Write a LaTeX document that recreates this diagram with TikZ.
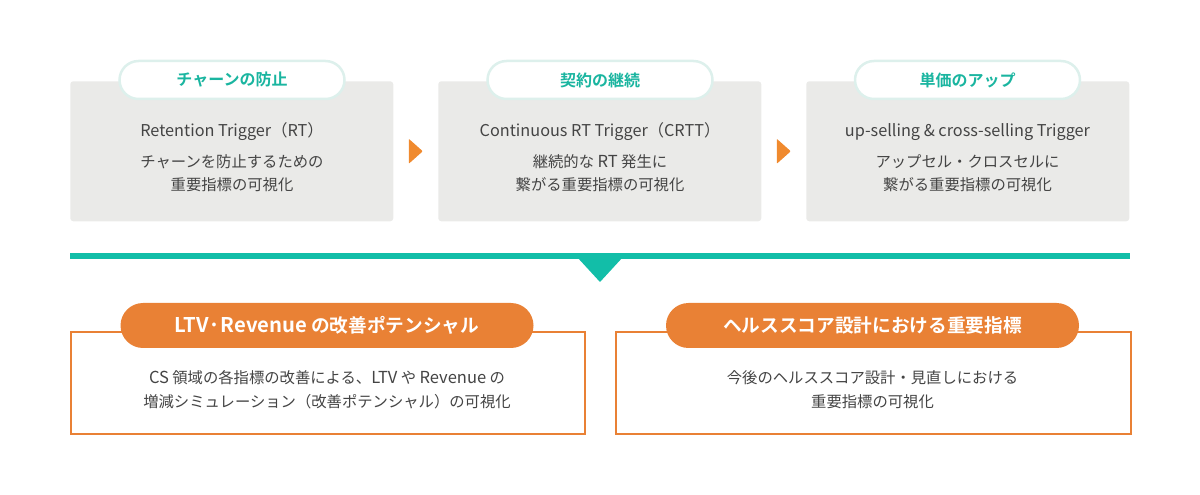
\documentclass[tikz,border=0pt]{standalone}
\usepackage{fontspec}
\setmainfont{Noto Sans CJK JP}[BoldFont={Noto Sans CJK JP Bold}]
\usetikzlibrary{calc}
\newlength\upx
\setlength\upx{0.75pt}
\newcommand\latb[1]{{\fontsize{12.4}{18}\selectfont #1}}
\newcommand\latp[1]{{\fontsize{15.2}{18}\selectfont #1}}
\definecolor{grayfill}{HTML}{EAEAE8}
\definecolor{pillborder}{HTML}{DDF0EC}
\definecolor{tealtext}{HTML}{1AB5A0}
\definecolor{tealbar}{HTML}{12BEA8}
\definecolor{arroworange}{HTML}{F08A2E}
\definecolor{boxorange}{HTML}{E98135}
\definecolor{bodytext}{HTML}{444444}
\begin{document}
\begin{tikzpicture}[x=0.75pt,y=-0.75pt,
  graybox/.style={fill=grayfill, draw=none, rounded corners=3\upx, minimum width=323\upx, minimum height=140\upx, inner sep=0pt, anchor=north west},
  toppill/.style={fill=white, draw=pillborder, line width=2.5\upx, rounded corners=19\upx, minimum width=225\upx, minimum height=38\upx, inner sep=0pt, text=tealtext, font=\bfseries\fontsize{12}{14}\selectfont},
  engline/.style={text=bodytext, inner sep=0pt, font=\fontsize{12.2}{14}\selectfont},
  jpline/.style={text=bodytext, inner sep=0pt, align=center, font=\fontsize{11.5}{17.25}\selectfont},
  orangebox/.style={fill=white, draw=boxorange, line width=2\upx, minimum width=514\upx, minimum height=102\upx, inner sep=0pt, anchor=north west},
  orangepill/.style={fill=boxorange, draw=none, rounded corners=22.5\upx, minimum width=413\upx, minimum height=45\upx, inner sep=0pt, text=white, font=\bfseries\fontsize{14}{16}\selectfont},
  bottomtext/.style={text=bodytext, inner sep=0pt, align=center, font=\fontsize{11.5}{18}\selectfont},
  steparrow/.style={fill=arroworange, rounded corners=0.8\upx}
]
\useasboundingbox (0,0) rectangle (1200,495);

% top boxes
\node[graybox] (b1) at (70,81) {};
\node[graybox] (b2) at (438,81) {};
\node[graybox] (b3) at (806,81) {};

\node[toppill] (p1) at (232,80) {チャーンの防止};
\node[toppill] (p2) at (600,80) {契約の継続};
\node[toppill] (p3) at (967.5,80) {単価のアップ};

\node[engline] (e1) at (232,132) {Retention Trigger（RT）};
\node[engline] (e2) at (600,132) {Continuous RT Trigger（CRTT）};
\node[engline] (e3) at (967.5,132) {up-selling \& cross-selling Trigger};

\node[jpline] (j1) at (232,173.5) {チャーンを防止するための\\重要指標の可視化};
\node[jpline] (j2) at (600,173.5) {継続的な \latb{RT} 発生に\\繋がる重要指標の可視化};
\node[jpline] (j3) at (967.5,173.5) {アップセル・クロスセルに\\繋がる重要指標の可視化};

% step arrows
\coordinate (a1) at ($(b1.east)!0.5!(b2.west)$);
\coordinate (a2) at ($(b2.east)!0.5!(b3.west)$);
\fill[steparrow] (a1) ++(-7,-12.5) -- ++(14,12.5) -- ++(-14,12.5) -- cycle;
\fill[steparrow] (a2) ++(-7,-12.5) -- ++(14,12.5) -- ++(-14,12.5) -- cycle;

% teal bar with pointer
\coordinate (barL) at (70,253);
\coordinate (barR) at (1130,259);
\coordinate (tipL) at (577,257);
\coordinate (tipR) at (623,257);
\coordinate (tip) at (600,282);
\fill[tealbar] (barL) rectangle (barR);
\fill[tealbar] (tipL) -- (tipR) -- (tip) -- cycle;

% bottom boxes
\node[orangebox] (ob1) at (70,331) {};
\node[orangebox, minimum width=515\upx] (ob2) at (615,331) {};

\node[orangepill] (op1) at (327,325.5) {\latp{LTV·Revenue} の改善ポテンシャル};
\node[orangepill] (op2) at (872.5,325.5) {ヘルススコア設計における重要指標};

\node[bottomtext] (bt1) at (327,390) {\latb{CS} 領域の各指標の改善による、\latb{LTV} や \latb{Revenue} の\\増減シミュレーション（改善ポテンシャル）の可視化};
\node[bottomtext] (bt2) at (872.5,390) {今後のヘルススコア設計・見直しにおける\\重要指標の可視化};
\end{tikzpicture}
\end{document}
